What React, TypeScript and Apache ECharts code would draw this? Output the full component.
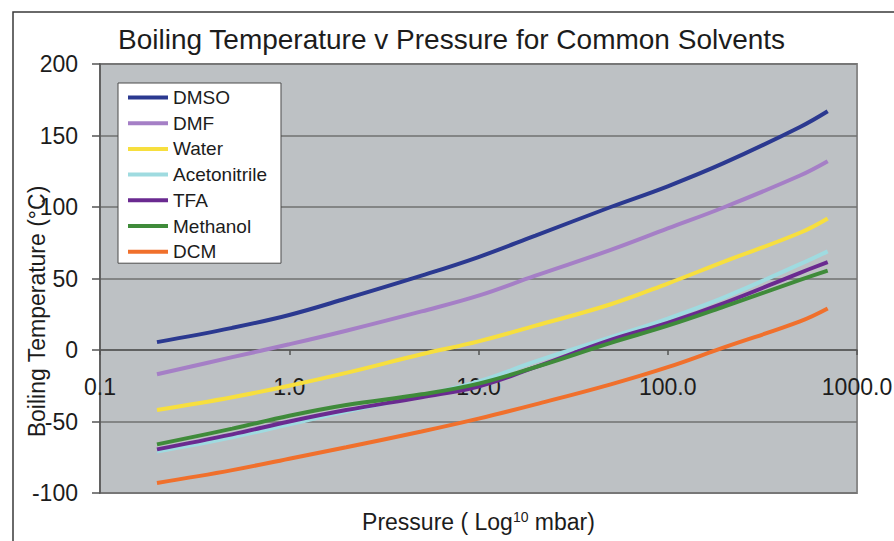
import React, { useEffect, useRef } from "react";
import * as echarts from "echarts";

const titleText = "Boiling Temperature v Pressure for Common Solvents";
const xAxisName = "{a|Pressure ( Log}{s|10}{a| mbar)}";
const yAxisName = "Boiling Temperature (°C)";

const xTickLabels = ["0.1", "1.0", "10.0", "100.0", "1000.0"];

const pressures = [0.2, 0.5, 1, 2, 5, 10, 20, 50, 100, 200, 500, 700];

const solventNames = ["DMSO", "DMF", "Water", "Acetonitrile", "TFA", "Methanol", "DCM"];
const solventColors = ["#2b3990", "#a57fc6", "#f7df3e", "#9fdbe0", "#6a2a90", "#3f8b3a", "#f0702c"];

const dmso = [5.5, 15.5, 24.5, 36, 52, 65, 80, 100, 114.5, 131, 156, 167];
const dmf = [-17, -5, 4, 13.5, 27, 38, 52, 70, 85, 100, 122, 132];
const water = [-42, -33, -25, -16, -3, 6, 17, 32, 46.5, 62, 82, 92];
const acetonitrile = [-71, -61, -52, -43, -32, -22, -8, 9, 22, 37, 60, 69];
const tfa = [-69.5, -59, -50, -42, -33, -25.5, -12, 7, 19, 33, 54, 61.5];
const methanol = [-66, -55, -46, -38.5, -31, -23.5, -12, 5, 17, 30.5, 49, 55.5];
const dcm = [-93, -84, -76, -68, -57, -48, -38, -24, -12, 2, 20, 29];

const solventValues = [dmso, dmf, water, acetonitrile, tfa, methanol, dcm];

const FONT = "'Liberation Sans', Arial, Helvetica, sans-serif";

export default function App() {
  const ref = useRef<HTMLDivElement>(null);

  useEffect(() => {
    if (!ref.current) return;
    const chart = echarts.init(ref.current, undefined, { renderer: "svg" });

    const series = solventNames.map((name, k) => ({
      name,
      type: "line",
      data: pressures.map((p, i) => [p, solventValues[k][i]]),
      smooth: 0.4,
      showSymbol: false,
      symbol: "none",
      lineStyle: { width: 4, color: solventColors[k] },
      itemStyle: { color: solventColors[k] },
      z: 3 + k,
    }));

    chart.setOption({
      animation: false,
      backgroundColor: "#ffffff",
      textStyle: { fontFamily: FONT },
      title: {
        text: titleText,
        left: 118,
        top: 25,
        padding: 0,
        textStyle: { fontSize: 28, fontWeight: "normal", color: "#1c1c1c", fontFamily: FONT },
      },
      graphic: [
        {
          type: "rect",
          silent: true,
          shape: { x: 13, y: 12, width: 900, height: 600 },
          style: { fill: "none", stroke: "#3a3a3a", lineWidth: 1.5 },
          z: -10,
        },
      ],
      legend: {
        data: solventNames,
        orient: "vertical",
        left: 118,
        top: 83,
        padding: [5, 14, 2, 10],
        itemWidth: 40,
        itemHeight: 4,
        itemGap: 6.7,
        itemTextGap: 3,
        icon: "rect",
        backgroundColor: "#ffffff",
        borderColor: "#4a4a4a",
        borderWidth: 1,
        textStyle: { fontSize: 19, color: "#1c1c1c", fontFamily: FONT },
      },
      grid: {
        left: 100,
        top: 64,
        right: 37,
        bottom: 48,
        outerBoundsMode: "none",
        containLabel: false,
        show: true,
        backgroundColor: "#bdc1c4",
        borderColor: "#8a8a8a",
        borderWidth: 2,
      },
      xAxis: {
        type: "log",
        logBase: 10,
        min: 0.1,
        max: 1000,
        position: "bottom",
        offset: -143,
        name: xAxisName,
        nameLocation: "middle",
        nameGap: 160,
        nameMoveOverlap: false,
        nameTextStyle: {
          rich: {
            a: { fontSize: 23, color: "#1c1c1c", fontFamily: FONT },
            s: { fontSize: 14, color: "#1c1c1c", fontFamily: FONT, verticalAlign: "top" },
          },
        },
        axisLine: { onZero: false, lineStyle: { color: "#555555", width: 1.5 } },
        axisTick: { show: true, inside: false, length: 5, lineStyle: { color: "#555555", width: 1.5 } },
        minorTick: { show: false },
        splitLine: { show: false },
        axisLabel: {
          margin: 25,
          fontSize: 23,
          color: "#1c1c1c",
          fontFamily: FONT,
          showMinLabel: true,
          showMaxLabel: true,
          formatter: (v: number) => xTickLabels[Math.round(Math.log10(v)) + 1] ?? "",
        },
      },
      yAxis: {
        type: "value",
        min: -100,
        max: 200,
        interval: 50,
        name: yAxisName,
        nameLocation: "middle",
        nameGap: 52,
        nameMoveOverlap: false,
        nameTextStyle: { fontSize: 23, color: "#1c1c1c", fontFamily: FONT, padding: [0, 66, 0, 0] },
        axisLine: { show: true, lineStyle: { color: "#555555", width: 1.5 } },
        axisTick: { show: true, inside: false, length: 8, lineStyle: { color: "#555555", width: 1.5 } },
        splitLine: { show: true, lineStyle: { color: "#707070", width: 1.5 } },
        axisLabel: { margin: 22, fontSize: 23, color: "#1c1c1c", fontFamily: FONT },
      },
      series,
    });

    return () => chart.dispose();
  }, []);

  return (
    <div
      ref={ref}
      style={{ position: "fixed", left: 0, top: 0, width: 894, height: 541, background: "#fff" }}
    />
  );
}
